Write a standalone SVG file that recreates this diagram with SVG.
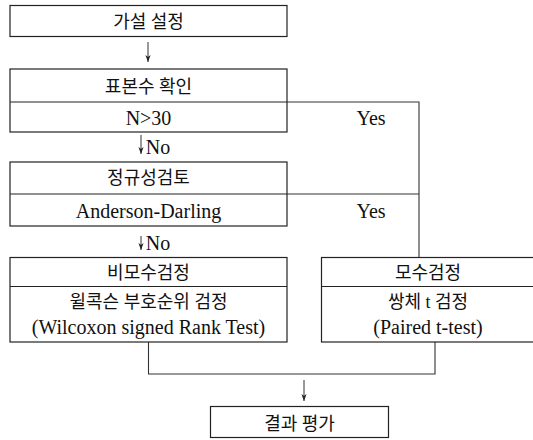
<svg xmlns="http://www.w3.org/2000/svg" width="533" height="440" viewBox="0 0 533 440">
<style>
.box{fill:#fff;stroke:#222;stroke-width:1.2}
.div{stroke:#222;stroke-width:1.2;fill:none}
.ln{stroke:#333;stroke-width:1.1;fill:none}
.ar{stroke:#333;stroke-width:1;fill:none}
text{font-family:"Liberation Serif","Noto Sans CJK KR",serif;fill:#111;text-anchor:middle}
.ko{font-size:18px}
.en{font-size:20px}
</style>
<defs>
<marker id="ah" markerUnits="userSpaceOnUse" markerWidth="8" markerHeight="8" viewBox="0 -4 8 8" refX="7" refY="0" orient="auto">
<path d="M0,-2.6 L7,0 L0,2.6 L2,0 z" fill="#222"/>
</marker>
</defs>
<rect width="533" height="440" fill="#fff"/>
<g id="connectors">
<path class="ln" d="M287 102 H419 V257.5"/>
<path class="ln" d="M287 194 H419"/>
<path class="ln" d="M148.5 342 V374 H435 V342"/>
<line class="ar" x1="148" y1="42" x2="148" y2="62" marker-end="url(#ah)"/>
<line class="ar" x1="141" y1="135" x2="141" y2="154" marker-end="url(#ah)"/>
<line class="ar" x1="141" y1="236" x2="141" y2="250" marker-end="url(#ah)"/>
<line class="ar" x1="304" y1="380" x2="304" y2="401" marker-end="url(#ah)"/>
<text class="en" x="158" y="154">No</text>
<text class="en" x="158" y="250">No</text>
<text class="en" x="371" y="125">Yes</text>
<text class="en" x="371" y="218">Yes</text>
</g>
<g id="hypothesis">
<rect class="box" x="10" y="5.5" width="277" height="31"/>
<text class="ko" x="148.5" y="28">가설 설정</text>
</g>
<g id="sample-size">
<rect class="box" x="10" y="69" width="277" height="63"/>
<line class="div" x1="10" y1="102" x2="287" y2="102"/>
<text class="ko" x="148.5" y="93">표본수 확인</text>
<text class="en" x="148.5" y="125">N&gt;30</text>
</g>
<g id="normality">
<rect class="box" x="10" y="162" width="277" height="64"/>
<line class="div" x1="10" y1="194" x2="287" y2="194"/>
<text class="ko" x="148.5" y="184">정규성검토</text>
<text class="en" x="148.5" y="218">Anderson-Darling</text>
</g>
<g id="nonparametric">
<rect class="box" x="10" y="257.5" width="277" height="84.5"/>
<line class="div" x1="10" y1="286.5" x2="287" y2="286.5"/>
<text class="ko" x="148.5" y="279">비모수검정</text>
<text class="ko" x="148.5" y="308">윌콕슨 부호순위 검정</text>
<text class="en" x="148.5" y="334">(Wilcoxon signed Rank Test)</text>
</g>
<g id="parametric">
<rect class="box" x="321.5" y="257.5" width="220" height="84.5"/>
<line class="div" x1="321.5" y1="286.5" x2="541.5" y2="286.5"/>
<text class="ko" x="428" y="279">모수검정</text>
<text class="ko" x="428" y="308">쌍체 t 검정</text>
<text class="en" x="428" y="334">(Paired t-test)</text>
</g>
<g id="result">
<rect class="box" x="210.5" y="406.5" width="178" height="31"/>
<text class="ko" x="299.5" y="430">결과 평가</text>
</g>
</svg>
